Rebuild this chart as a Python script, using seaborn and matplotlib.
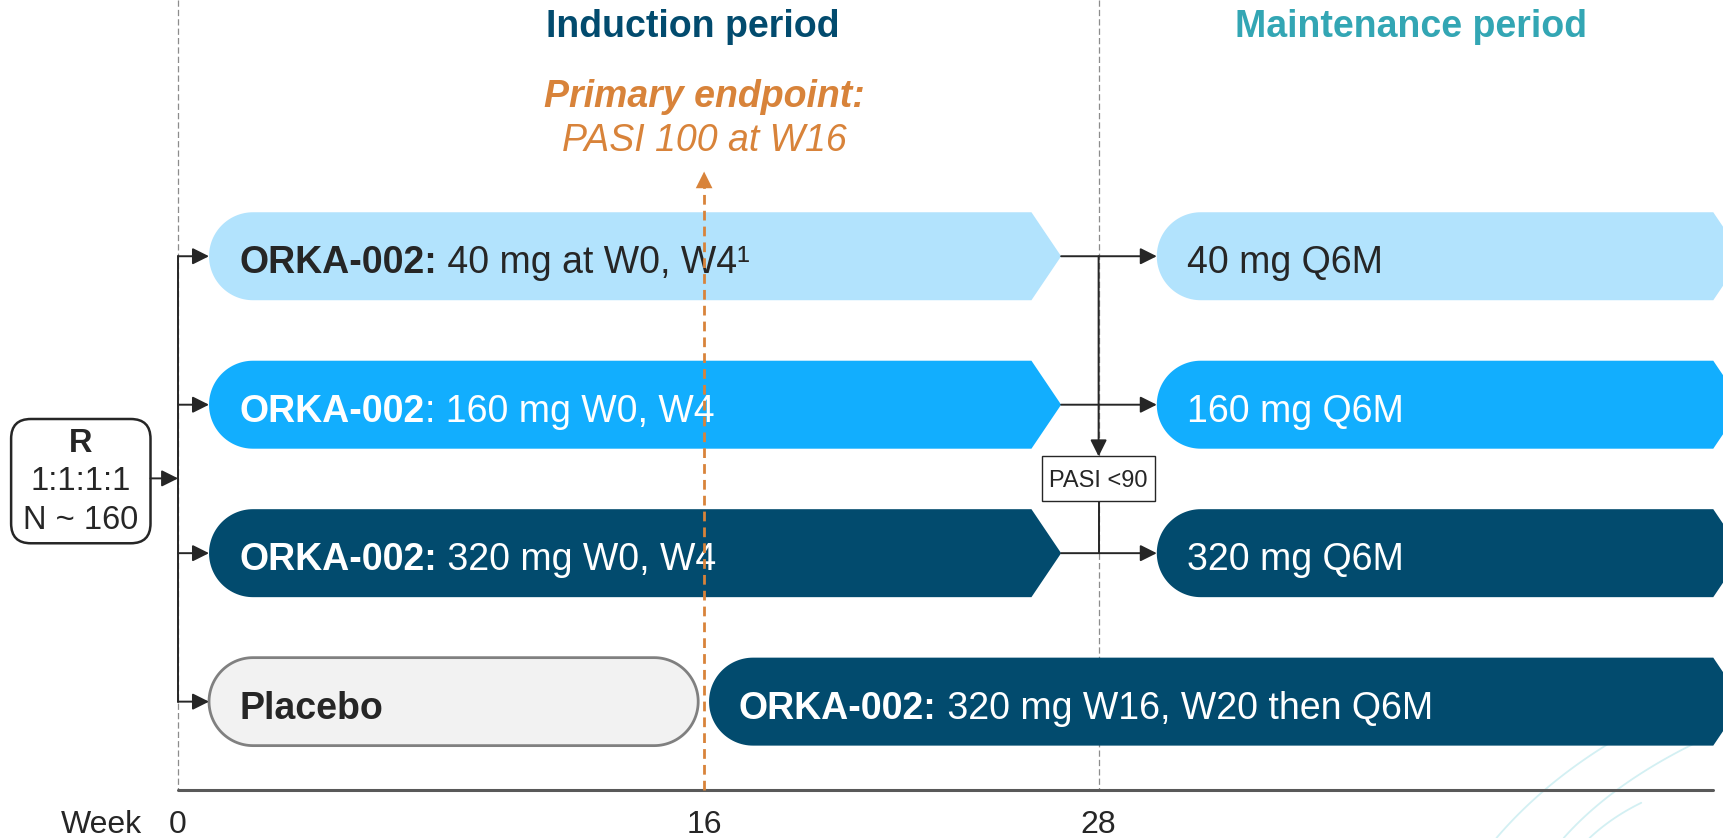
import numpy as np
import matplotlib.pyplot as plt
import seaborn as sns
from matplotlib.patches import Polygon, FancyBboxPatch, Rectangle

sns.set_theme(style="white")
plt.rcParams['font.family'] = ['Liberation Sans', 'DejaVu Sans']

# ---- data -------------------------------------------------------------
week_ticks = [0, 16, 28]
period_names = ["Induction period", "Maintenance period"]
period_centers = [15.65, 37.5]
period_colors = ["#024B6E", "#33A6B4"]

# induction arms (rows 0-2), placebo row 3
arm_rows = [0, 1, 2]
arm_bold = ["ORKA-002:", "ORKA-002", "ORKA-002:"]
arm_rest = [" 40 mg at W0, W4\u00b9", ": 160 mg W0, W4", " 320 mg W0, W4"]
arm_colors = ["#B2E3FD", "#12AEFE", "#024B6E"]
arm_text_colors = ["#262626", "white", "white"]
induction_start, induction_end = 0.94, 26.86
maint_start, maint_end = 29.77, 47.6
maint_labels = ["40 mg Q6M", "160 mg Q6M", "320 mg Q6M"]

placebo_row = 3
placebo_start, placebo_end = 0.94, 15.82
crossover_start = 16.15
crossover_bold = "ORKA-002:"
crossover_rest = " 320 mg W16, W20 then Q6M"

rand_lines = ["R", "1:1:1:1", "N ~ 160"]
endpoint_lines = ["Primary endpoint:", "PASI 100 at W16"]
endpoint_week = 16
responder_week = 28
responder_label = "PASI <90"

# ---- layout helpers ---------------------------------------------------
PX_X = 29.9   # pixels (1568 wide) per week
PX_Y = 135.0  # pixels per row
HALF_H = 40 / PX_Y
RAD_X = 40 / PX_X
TIP = 27 / PX_X
TXT_DY = 6.5 / PX_Y   # box labels sit a little below the row centre
DARK = "#262626"
ORANGE = "#D8833A"


def py(px):
    # pixel row (1568x762 frame) -> row units
    return (px - 233) / PX_Y


def arm_shape(x0, x1, y, right="arrow", **kw):
    pts = []
    if right == "arrow":
        pts += [(x1 - TIP, y - HALF_H), (x1, y), (x1 - TIP, y + HALF_H)]
    else:
        t = np.linspace(-np.pi / 2, np.pi / 2, 60)
        pts += list(zip(x1 - RAD_X + RAD_X * np.cos(t), y + HALF_H * np.sin(t)))
    t = np.linspace(np.pi / 2, 3 * np.pi / 2, 60)
    pts += list(zip(x0 + RAD_X + RAD_X * np.cos(t), y + HALF_H * np.sin(t)))
    return Polygon(pts, closed=True, **kw)


def two_part_text(ax, x, y, bold, rest, color, size=27):
    t1 = ax.text(x, y + TXT_DY, bold, fontsize=size, fontweight="bold",
                 color=color, ha="left", va="center", zorder=5)
    if rest:
        ax.annotate(rest, xy=(1, 0), xycoords=t1, fontsize=size, color=color,
                    ha="left", va="bottom", zorder=5)


def arrow(ax, start, end, lw=1.4, color=DARK, ms=25):
    ax.annotate("", xy=end, xytext=start,
                arrowprops=dict(arrowstyle="-|>", color=color, lw=lw,
                                mutation_scale=ms, shrinkA=0, shrinkB=0),
                zorder=4)


fig = plt.figure(figsize=(17.24, 8.38), dpi=100)
ax = fig.add_axes([0, 0, 1, 1])
ax.set_xlim(-162 / PX_X, (1568 - 162) / PX_X)
ax.set_ylim(py(762), py(0))
ax.axis("off")

axis_y = py(718)
top_y = py(0)

# period separators
for wk in [0, responder_week]:
    ax.plot([wk, wk], [top_y, axis_y], color="#8C8C8C", lw=0.9,
            dashes=(5, 2.5), zorder=1)

# timeline axis
sns.lineplot(x=[0, (1558 - 162) / PX_X], y=[axis_y, axis_y], color="#595959",
             lw=2.2, ax=ax, zorder=3)
ax.text(-2.34, py(750), "Week", fontsize=23, color=DARK,
        ha="center", va="center")
for wk in week_ticks:
    ax.text(wk, py(750), str(wk), fontsize=23, color=DARK,
            ha="center", va="center")

# period titles
for name, cx, col in zip(period_names, period_centers, period_colors):
    ax.text(cx, py(24.5), name, fontsize=27, fontweight="bold",
            color=col, ha="center", va="center")

# primary endpoint marker
ax.text(endpoint_week, py(88), endpoint_lines[0], fontsize=27,
        fontweight="bold", fontstyle="italic", color=ORANGE,
        ha="center", va="center")
ax.text(endpoint_week, py(128), endpoint_lines[1], fontsize=27,
        fontstyle="italic", color=ORANGE, ha="center", va="center")
ax.plot([endpoint_week, endpoint_week], [axis_y, py(170)],
        color=ORANGE, lw=2, dashes=(3.5, 2.2), zorder=6)
ax.annotate("", xy=(endpoint_week, py(156)),
            xytext=(endpoint_week, py(172)),
            arrowprops=dict(arrowstyle="-|>", color=ORANGE, lw=0,
                            mutation_scale=30, shrinkA=0, shrinkB=0), zorder=6)

# randomisation box
rb = FancyBboxPatch((-5.08, py(381)), 4.24, (494 - 381) / PX_Y,
                    boxstyle="round,pad=0,rounding_size=0.6",
                    mutation_aspect=PX_X / PX_Y,
                    fc="white", ec=DARK, lw=1.8, zorder=3)
ax.add_patch(rb)
for i, line in enumerate(rand_lines):
    ax.text(-2.96, py(403 + 35 * i), line, fontsize=23.5,
            color=DARK, fontweight="bold" if i == 0 else "normal",
            ha="center", va="center", zorder=4)
arrow(ax, (-0.84, py(435)), (0, py(435)))

# branching tree
ax.plot([0, 0], [arm_rows[0], placebo_row], color=DARK, lw=1.4, zorder=4)
for row in arm_rows + [placebo_row]:
    arrow(ax, (0, row), (induction_start, row))

# induction + maintenance arms
for row, bold, rest, col, tcol, mlab in zip(arm_rows, arm_bold, arm_rest,
                                            arm_colors, arm_text_colors,
                                            maint_labels):
    ax.add_patch(arm_shape(induction_start, induction_end, row, fc=col,
                           ec="none", zorder=2))
    two_part_text(ax, 1.87, row, bold, rest, tcol)
    ax.add_patch(arm_shape(maint_start, maint_end, row, fc=col, ec="none",
                           zorder=2))
    ax.text(30.7, row + TXT_DY, mlab, fontsize=27, color=tcol, ha="left",
            va="center", zorder=5)
    arrow(ax, (induction_end, row), (maint_start, row))

# placebo + crossover
ax.add_patch(arm_shape(placebo_start, placebo_end, placebo_row, right="round",
                       fc="#F2F2F2", ec="#808080", lw=2, zorder=2))
ax.text(1.87, placebo_row + TXT_DY, "Placebo", fontsize=27, fontweight="bold",
        color=DARK, ha="left", va="center", zorder=5)
ax.add_patch(arm_shape(crossover_start, maint_end, placebo_row,
                       fc=arm_colors[2], ec="none", zorder=2))
two_part_text(ax, 17.06, placebo_row, crossover_bold, crossover_rest, "white")

# PASI <90 non-responder path
box_top, box_bot = py(415), py(456)
arrow(ax, (responder_week, arm_rows[0]), (responder_week, box_top))
ax.plot([responder_week, responder_week], [box_bot, arm_rows[2]], color=DARK,
        lw=1.4, zorder=4)
ax.add_patch(Rectangle((responder_week - 1.72, box_top), 3.44,
                       box_bot - box_top, fc="white", ec=DARK, lw=1, zorder=5))
ax.text(responder_week, (box_top + box_bot) / 2 + 2 / PX_Y, responder_label,
        fontsize=17, color=DARK, ha="center", va="center", zorder=6)

# faint decorative swooshes in the corner
for (x0, y0), (xc, yc), (x1, y1) in [((0.868, 0.0), (0.895, 0.065), (0.935, 0.115)),
                                     ((0.907, 0.0), (0.935, 0.065), (0.985, 0.115)),
                                     ((0.922, 0.0), (0.935, 0.025), (0.952, 0.042))]:
    t = np.linspace(0, 1, 50)
    bx = (1 - t) ** 2 * x0 + 2 * (1 - t) * t * xc + t ** 2 * x1
    by = (1 - t) ** 2 * y0 + 2 * (1 - t) * t * yc + t ** 2 * y1
    ax.plot(bx, by, color="#D3F0F3", lw=1.3, transform=ax.transAxes, zorder=0)

fig.savefig("out.png", dpi=100)
